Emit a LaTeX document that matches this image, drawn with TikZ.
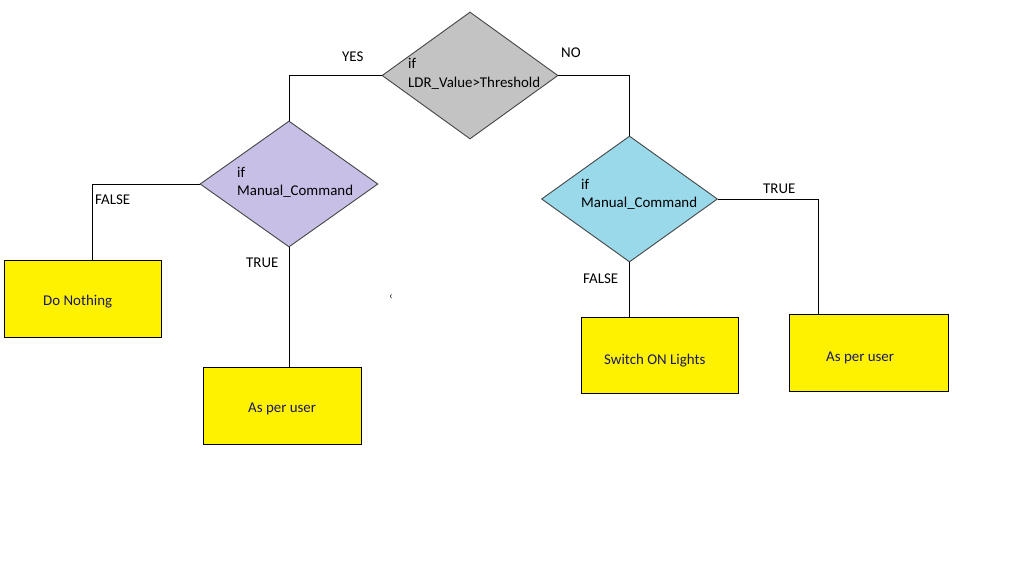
\documentclass[tikz,border=0pt]{standalone}
\usepackage{fontspec}
\setmainfont{Carlito}
\usetikzlibrary{shapes.geometric,calc}
\definecolor{dgray}{RGB}{195,195,195}
\definecolor{lav}{RGB}{200,191,231}
\definecolor{turq}{RGB}{153,217,234}
\definecolor{yel}{RGB}{255,242,0}
\definecolor{boxtxt}{RGB}{25,25,95}
\begin{document}
\begin{tikzpicture}[x=1pt,y=-1pt,
  every node/.style={font=\fontsize{14.9}{17}\selectfont},
  decision/.style={diamond,draw={rgb,255:red,70;green,70;blue,70},line width=0.9pt,inner sep=0pt,anchor=center},
  actbox/.style={rectangle,draw=black,line width=1pt,fill=yel,inner sep=0pt,anchor=north west},
  txt/.style={anchor=base west,inner sep=0pt,text=black},
  btxt/.style={anchor=base west,inner sep=0pt,text=boxtxt},
  conn/.style={draw=black,line width=1pt}]
\useasboundingbox (0,0) rectangle (1022,581);
\fill[white] (0,0) rectangle (1022,581);

% decisions
\node[decision,fill=dgray,minimum width=176pt,minimum height=127pt] (d1) at (470,75.5) {};
\node[decision,fill=lav,minimum width=178pt,minimum height=126pt] (d2) at (289,184) {};
\node[decision,fill=turq,minimum width=176pt,minimum height=126pt] (d3) at (629.5,199) {};

\node[txt] (t1a) at (408,68) {if};
\node[txt] (t1b) at (408,87) {LDR\_Value>Threshold};
\node[txt] (t2a) at (237,177) {if};
\node[txt] (t2b) at (237,195) {Manual\_Command};
\node[txt] (t3a) at (581,189) {if};
\node[txt] (t3b) at (581,207) {Manual\_Command};

% boxes
\node[actbox,minimum width=157pt,minimum height=77pt] (b1) at (4,260) {};
\node[actbox,minimum width=158pt,minimum height=77pt] (b2) at (203,367) {};
\node[actbox,minimum width=157pt,minimum height=76pt] (b3) at (581,317) {};
\node[actbox,minimum width=159pt,minimum height=77pt] (b4) at (789,314) {};

\node[btxt] (bt1) at (43,305) {Do Nothing};
\node[btxt] (bt2) at (248,412) {As per user};
\node[btxt] (bt3) at (604,364) {Switch ON Lights};
\node[btxt] (bt4) at (826,361) {As per user};

% connector end points
\coordinate (c1) at (92,260);
\coordinate (c4) at (818,314);

% connectors
\draw[conn] (d1.west) -| (d2.north);
\draw[conn] (d1.east) -| (d3.north);
\draw[conn] (d2.west) -| (c1);
\draw[conn] (d2.south) -- (d2.south |- b2.north);
\draw[conn] (d3.south) -- (d3.south |- b3.north);
\draw[conn] (d3.east) -| (c4);

% labels
\node[txt] (lyes) at (342,61) {YES};
\node[txt] (lno) at (561,57) {NO};
\node[txt] (lf1) at (95,204) {FALSE};
\node[txt] (lt1) at (246,267) {TRUE};
\node[txt] (lt2) at (763,193) {TRUE};
\node[txt] (lf2) at (583,283) {FALSE};

% stray mark
\node[txt,font=\fontsize{11}{12}\selectfont] (mark) at (389,299) {‹};
\end{tikzpicture}
\end{document}
